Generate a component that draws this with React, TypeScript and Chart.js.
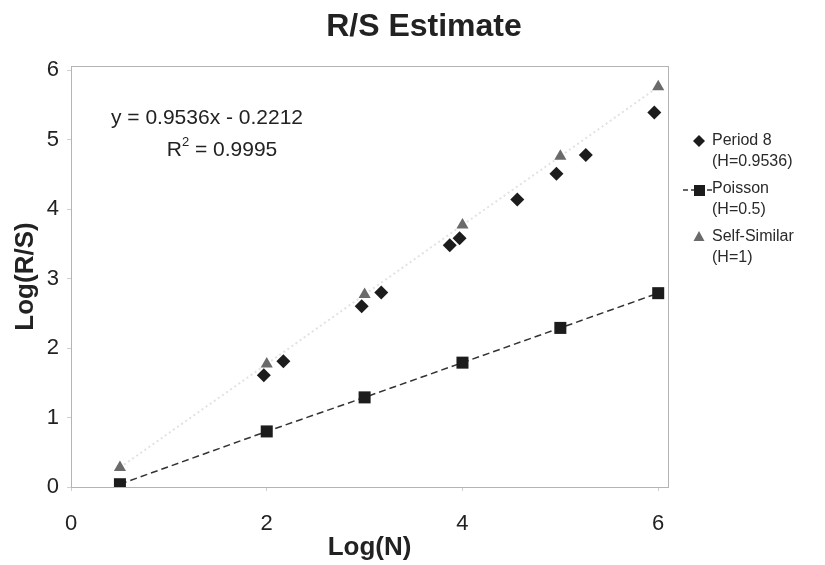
import React, { useEffect, useRef } from "react";
import { Chart, registerables } from "chart.js";

Chart.register(...registerables);

const period8X = [1.97, 2.17, 2.97, 3.17, 3.87, 3.97, 4.56, 4.96, 5.26, 5.96];
const period8Y = [1.61, 1.81, 2.6, 2.8, 3.48, 3.58, 4.14, 4.51, 4.78, 5.39];
const poissonX = [0.5, 2, 3, 4, 5, 6];
const poissonY = [0.04, 0.8, 1.29, 1.79, 2.29, 2.79];
const selfSimX = [0.5, 2, 3, 4, 5, 6];
const selfSimY = [0.28, 1.77, 2.77, 3.77, 4.76, 5.76];
const xTicks = [0, 2, 4, 6];
const yTicks = [0, 1, 2, 3, 4, 5, 6];
const legendLines = [
  ["Period 8", "(H=0.9536)"],
  ["Poisson", "(H=0.5)"],
  ["Self-Similar", "(H=1)"],
];
const chartTitle = "R/S Estimate";
const equationText = "y = 0.9536x - 0.2212";
const r2Value = "0.9995";

const FONT = "'Liberation Sans', Arial, sans-serif";
const DARK = "#1c1c1c";
const TRI = "#6a6a6a";

const toPts = (xs: number[], ys: number[]) => xs.map((x, i) => ({ x, y: ys[i] }));

const framePlugin = {
  id: "frame",
  afterDraw(chart: any) {
    const { ctx, chartArea: a } = chart;
    ctx.save();
    ctx.strokeStyle = "#b4b4b4";
    ctx.lineWidth = 1;
    ctx.strokeRect(Math.round(a.left) + 0.5, Math.round(a.top) + 0.5, Math.round(a.right - a.left), Math.round(a.bottom - a.top));
    ctx.restore();
  },
};

const annotPlugin = {
  id: "annot",
  afterDraw(chart: any) {
    const { ctx } = chart;
    ctx.save();
    // title
    ctx.fillStyle = "#222";
    ctx.textAlign = "center";
    ctx.textBaseline = "alphabetic";
    ctx.font = `bold 32px ${FONT}`;
    ctx.fillText(chartTitle, 424, 36);

    ctx.textBaseline = "middle";
    ctx.font = `21px ${FONT}`;
    ctx.fillText(equationText, 207, 118);
    // R^2 line
    ctx.textAlign = "left";
    const r = "R";
    const rest = " = " + r2Value;
    const wR = ctx.measureText(r).width;
    ctx.font = `13px ${FONT}`;
    const w2 = ctx.measureText("2").width;
    ctx.font = `21px ${FONT}`;
    const wRest = ctx.measureText(rest).width;
    const total = wR + w2 + wRest;
    let x = 222 - total / 2;
    ctx.fillText(r, x, 150);
    x += wR;
    ctx.font = `13px ${FONT}`;
    ctx.fillText("2", x, 142);
    x += w2;
    ctx.font = `21px ${FONT}`;
    ctx.fillText(rest, x, 150);

    // legend
    const lx = 712;
    const rows = [141, 189, 237];
    ctx.font = `16px ${FONT}`;
    ctx.fillStyle = "#2a2a2a";
    ctx.textAlign = "left";
    legendLines.forEach((lines, i) => {
      ctx.fillText(lines[0], lx, rows[i]);
      ctx.fillText(lines[1], lx, rows[i] + 21);
    });
    const mx = 699;
    // diamond
    ctx.fillStyle = DARK;
    ctx.beginPath();
    ctx.moveTo(mx, rows[0] - 6);
    ctx.lineTo(mx + 6, rows[0]);
    ctx.lineTo(mx, rows[0] + 6);
    ctx.lineTo(mx - 6, rows[0]);
    ctx.closePath();
    ctx.fill();
    // poisson line + square
    ctx.strokeStyle = "#333";
    ctx.lineWidth = 1.3;
    ctx.setLineDash([5, 3]);
    ctx.beginPath();
    ctx.moveTo(683, rows[1] + 1);
    ctx.lineTo(712, rows[1] + 1);
    ctx.stroke();
    ctx.setLineDash([]);
    ctx.fillRect(mx - 5, rows[1] - 4, 11, 11);
    // triangle
    ctx.fillStyle = TRI;
    ctx.beginPath();
    ctx.moveTo(mx, rows[2] - 6);
    ctx.lineTo(mx + 5.5, rows[2] + 4);
    ctx.lineTo(mx - 5.5, rows[2] + 4);
    ctx.closePath();
    ctx.fill();
    ctx.restore();
  },
};

export default function App() {
  const ref = useRef<HTMLCanvasElement | null>(null);
  useEffect(() => {
    if (!ref.current) return;
    const chart = new Chart(ref.current, {
      type: "scatter",
      data: {
        datasets: [
          {
            label: "Self-Similar (H=1)",
            data: toPts(selfSimX, selfSimY),
            showLine: true,
            borderColor: "#e2e2e2",
            borderWidth: 2,
            borderDash: [2, 3],
            pointStyle: "triangle",
            pointRadius: 7,
            pointBackgroundColor: TRI,
            pointBorderColor: TRI,
            pointBorderWidth: 0,
            order: 3,
          },
          {
            label: "Poisson (H=0.5)",
            data: toPts(poissonX, poissonY),
            showLine: true,
            borderColor: "#333",
            borderWidth: 1.5,
            borderDash: [7, 4],
            pointStyle: "rect",
            pointRadius: 8.5,
            pointBackgroundColor: DARK,
            pointBorderColor: DARK,
            pointBorderWidth: 0,
            order: 2,
          },
          {
            label: "Period 8 (H=0.9536)",
            data: toPts(period8X, period8Y),
            showLine: false,
            pointStyle: "rectRot",
            pointRadius: 7,
            pointBackgroundColor: DARK,
            pointBorderColor: DARK,
            pointBorderWidth: 0,
            order: 1,
          },
        ],
      },
      options: {
        animation: false,
        responsive: true,
        maintainAspectRatio: false,
        layout: { padding: { left: 0, right: 157, top: 66, bottom: 0 } },
        plugins: {
          legend: { display: false },
          tooltip: { enabled: false },
          title: { display: false },
        },
        scales: {
          x: {
            type: "linear",
            min: 0,
            max: 6.1,
            afterBuildTicks: (scale: any) => {
              scale.ticks = xTicks.map((v) => ({ value: v }));
            },
            afterFit: (scale: any) => {
              scale.height = 78;
            },
            grid: { display: true, drawOnChartArea: false, drawTicks: true, tickLength: 4, color: "#d0d0d0" },
            border: { display: false },
            ticks: {
              color: "#222",
              font: { family: FONT, size: 22 },
              padding: 20,
              maxRotation: 0,
            },
            title: {
              display: true,
              text: "Log(N)",
              color: "#222",
              font: { family: FONT, size: 26, weight: "bold" },
              padding: { top: 0, bottom: 2 },
            },
          },
          y: {
            type: "linear",
            min: 0,
            max: 6.06,
            afterBuildTicks: (scale: any) => {
              scale.ticks = yTicks.map((v) => ({ value: v }));
            },
            afterFit: (scale: any) => {
              scale.width = 71;
            },
            grid: { display: true, drawOnChartArea: false, drawTicks: true, tickLength: 4, color: "#d0d0d0" },
            border: { display: false },
            ticks: {
              color: "#222",
              font: { family: FONT, size: 22 },
              padding: 8,
            },
            title: {
              display: true,
              text: "Log(R/S)",
              color: "#222",
              font: { family: FONT, size: 26, weight: "bold" },
              padding: { top: 10, bottom: 0 },
            },
          },
        },
      },
      plugins: [framePlugin, annotPlugin],
    });
    return () => chart.destroy();
  }, []);
  return (
    <div style={{ position: "fixed", left: 0, top: 0, width: 825, height: 565, background: "#fff" }}>
      <canvas ref={ref} />
    </div>
  );
}
